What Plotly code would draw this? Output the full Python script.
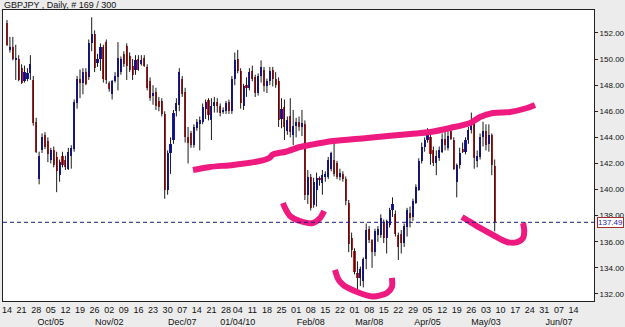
import pandas as pd
import plotly.graph_objects as go

# ---------------- data ----------------
opens = [152.8,150.7,150.9,149.9,150.0,149.3,148.3,148.5,148.9,148.4,
         145.2,140.8,143.0,144.2,143.7,142.3,143.0,142.5,141.1,142.6,
         142.3,141.6,142.6,143.1,146.6,148.5,148.2,149.0,148.6,151.2,
         151.9,149.7,150.0,150.9,151.3,148.2,147.3,148.3,148.6,149.0,
         150.4,151.0,150.2,149.5,149.2,150.0,149.6,150.1,149.4,148.3,
         147.2,147.5,146.8,146.8,145.8,140.0,142.8,143.8,146.0,146.5,
         148.5,147.5,144.0,144.3,143.4,144.7,145.0,145.2,146.2,146.9,
         145.3,146.4,146.7,146.4,146.0,146.0,146.7,146.0,148.5,150.0,
         149.1,146.4,148.0,147.8,149.1,148.6,147.4,148.7,149.2,147.9,
         148.3,149.2,148.5,148.3,145.4,146.3,144.5,145.6,144.2,144.9,
         145.2,144.8,145.0,139.6,141.0,138.8,140.0,140.9,140.5,141.0,
         141.0,141.6,142.3,142.0,141.0,141.2,140.8,139.0,136.3,135.3,
         133.6,133.2,133.0,134.7,137.0,136.1,135.2,136.5,136.5,137.5,
         136.3,137.3,138.4,138.1,136.5,136.6,135.9,137.1,138.2,137.9,
         139.0,140.0,142.2,143.3,143.8,144.0,143.0,142.0,142.4,142.9,
         143.9,143.2,144.5,143.8,140.6,141.9,143.1,142.9,143.8,144.6,
         145.2,142.2,142.5,144.0,144.5,143.5,144.2,141.8]
highs = [153.0,151.7,151.7,151.1,150.3,149.6,149.5,149.3,150.3,148.7,
         145.5,142.9,144.3,144.4,144.0,143.2,143.3,142.9,142.3,142.9,
         142.6,143.2,143.4,146.9,148.7,149.2,149.3,149.3,151.5,153.2,
         152.2,150.4,151.2,151.1,151.5,148.3,148.4,149.0,151.3,150.2,
         150.6,151.2,150.5,150.0,150.3,150.3,150.3,150.3,149.6,148.6,
         148.0,147.8,147.1,147.0,146.0,143.0,144.0,146.1,147.0,149.3,
         148.7,147.8,144.8,144.5,145.0,145.4,145.6,146.6,146.9,147.0,
         147.0,147.1,147.0,146.6,146.3,146.8,146.9,148.7,150.5,150.7,
         149.3,148.1,148.6,149.3,149.5,148.8,148.9,149.9,149.4,148.5,
         149.4,149.4,149.0,148.6,147.0,146.9,145.6,147.0,146.1,145.5,
         145.6,146.1,145.3,141.5,141.2,140.9,141.3,141.0,141.5,141.4,
         142.5,142.9,143.6,142.2,141.6,141.4,141.0,139.2,136.7,135.5,
         134.5,134.1,134.8,137.4,137.2,136.2,137.0,137.2,138.1,137.7,
         137.7,138.6,139.4,138.4,136.7,136.9,137.4,138.6,138.7,139.3,
         140.4,142.4,143.6,144.0,144.7,144.2,143.3,143.0,143.3,144.3,
         144.6,144.6,144.7,144.0,142.0,143.2,143.6,144.0,144.8,145.9,
         145.4,143.0,144.3,145.2,145.0,145.0,144.3,142.3]
lows = [151.0,150.5,149.9,148.4,148.3,148.1,148.2,148.3,148.4,144.9,
        142.8,140.4,142.8,143.1,142.1,142.0,141.7,139.8,140.6,141.7,
        141.5,141.5,141.6,142.9,146.2,147.0,147.3,148.0,148.4,150.6,
        149.0,149.4,149.1,148.2,148.1,147.5,146.9,148.2,147.6,148.8,
        149.4,148.4,149.0,148.4,148.8,149.1,149.5,149.4,147.6,146.8,
        146.5,146.1,146.0,145.6,139.3,139.6,141.2,143.5,145.6,146.0,
        147.1,143.6,142.0,143.2,143.2,144.5,143.0,145.0,145.4,145.3,
        143.8,145.9,145.9,145.6,145.8,145.8,145.8,145.8,148.0,148.9,
        146.2,146.1,147.1,147.6,148.3,147.1,147.2,148.2,147.5,147.4,
        148.0,147.9,147.8,144.8,144.7,143.8,144.2,144.0,143.4,144.0,
        144.5,144.1,139.2,138.9,138.4,138.6,138.7,140.3,139.6,140.6,
        140.8,141.4,141.0,140.8,140.7,140.6,138.8,135.2,134.8,133.5,
        132.1,132.6,132.5,133.9,135.9,134.0,134.9,136.0,136.3,135.9,
        135.1,137.1,137.9,136.4,134.6,135.1,135.6,136.4,137.1,137.6,
        138.9,139.9,142.0,142.9,143.6,141.9,141.8,141.1,142.2,142.8,
        143.0,143.0,143.8,141.5,139.4,141.6,142.8,142.7,143.5,144.3,
        141.6,141.7,142.3,143.3,143.0,142.9,141.1,136.8]
closes = [151.1,150.9,150.0,150.1,148.4,148.2,149.0,148.9,149.6,145.1,
          142.9,142.6,144.0,143.3,142.7,143.0,141.9,141.4,142.1,141.9,
          141.7,142.9,143.2,146.7,148.5,148.2,149.0,148.1,151.2,151.9,
          149.3,150.0,150.9,148.5,148.4,147.7,148.3,148.7,150.1,150.0,
          149.6,149.5,149.2,148.8,149.9,149.2,149.9,149.5,147.8,147.0,
          147.4,146.4,146.3,145.8,140.0,142.8,143.5,145.9,146.6,149.0,
          147.3,144.0,143.6,143.4,144.8,145.2,145.3,146.3,146.7,145.7,
          146.4,146.7,146.4,145.9,146.1,146.6,146.0,148.5,149.9,149.1,
          146.6,147.9,147.8,149.0,148.5,147.4,148.7,149.4,147.9,148.3,
          149.1,148.5,148.0,145.3,146.2,144.8,145.3,144.4,144.9,145.2,
          144.8,145.1,139.6,141.0,138.6,140.6,140.9,140.7,141.1,141.2,
          142.3,142.8,141.2,141.0,141.3,140.8,139.1,135.8,135.4,133.7,
          133.2,133.9,134.7,136.9,136.1,135.2,136.8,137.0,137.8,136.3,
          137.6,138.4,138.9,136.6,135.6,135.9,137.2,138.4,137.8,139.1,
          140.2,142.2,143.3,143.8,144.2,142.7,142.0,142.6,143.0,143.9,
          143.4,144.1,143.9,141.6,141.9,142.8,142.9,143.8,144.6,145.3,
          142.4,142.6,144.0,144.5,143.4,144.2,141.9,137.49]

# trading calendar (weekdays, New Year's day missing) and tick labels
first_day = "2009-09-14"
last_axis_day = "2010-06-18"
holidays = ["2010-01-01"]
month_label_dates = ["2009-10-05", "2009-11-02", "2009-12-07", "2010-01-04", "2010-02-08",
                     "2010-03-08", "2010-04-05", "2010-05-03", "2010-06-07"]
month_label_text = ["Oct/05", "Nov/02", "Dec/07", "01/04/10", "Feb/08",
                    "Mar/08", "Apr/05", "May/03", "Jun/07"]
y_ticks = [132, 134, 136, 138, 140, 142, 144, 146, 148, 150, 152]

# pink hand-drawn marks (bar index, price)
neck_x = [63.7, 69.5, 77.4, 86.6, 89.8, 91.0, 93.0, 95.5, 100.3, 103.8, 111.6, 123.3, 138.0,
          144.9, 151.7, 158.6, 162.0, 166.4, 172.3, 178.1, 180.8]
neck_y = [141.50, 141.73, 141.89, 142.19, 142.42, 142.68, 142.80, 142.90, 143.26, 143.42, 143.72,
          143.95, 144.26, 144.41, 144.72, 145.10, 145.56, 145.87, 145.95, 146.25, 146.48]
lsh_x = [94.5, 95.2, 96.9, 100.3, 104.8, 107.2, 108.6]
lsh_y = [138.97, 138.59, 137.98, 137.59, 137.44, 137.82, 138.36]
head_x = [112.3, 113.4, 115.1, 119.9, 125.3, 130.1, 131.8, 131.8]
head_y = [133.84, 133.15, 132.69, 132.15, 131.80, 132.08, 132.54, 133.23]
rsh_x = [155.8, 157.5, 162.0, 166.4, 171.2, 174.7, 176.7, 177.1, 176.7]
rsh_y = [137.90, 137.67, 137.06, 136.52, 135.98, 135.98, 136.29, 136.90, 137.44]

# ---------------- build ----------------
days = pd.bdate_range(first_day, last_axis_day)
days = days[~days.isin(pd.to_datetime(holidays))]
pos = {d: i for i, d in enumerate(days)}
n = len(closes)
xs = list(range(n))

mlab = dict(zip(pd.to_datetime(month_label_dates), month_label_text))
tickvals, ticktext = [], []
for d in days:
    if d.weekday() == 0:
        tickvals.append(pos[d])
        t = d.strftime("%d")
        if d in mlab:
            t += "<br>" + mlab[d]
        ticktext.append(t)

BLUE = "#1414d2"
RED = "#d81c1c"
PINK = "#ee1a80"

fig = go.Figure()

# wicks
wx, wy = [], []
for i in xs:
    wx += [i, i, None]
    wy += [highs[i], lows[i], None]
fig.add_trace(go.Scatter(x=wx, y=wy, mode="lines", line=dict(color="#1a1a1a", width=1),
                         hoverinfo="skip", showlegend=False))

# bodies
base = [min(o, c) for o, c in zip(opens, closes)]
hgt = [max(abs(c - o), 0.08) for o, c in zip(opens, closes)]
cols = [BLUE if c >= o else RED for o, c in zip(opens, closes)]
fig.add_trace(go.Bar(x=xs, y=hgt, base=base, width=0.72, marker=dict(color=cols, line=dict(width=0)),
                     showlegend=False))

for px_, py_ in [(neck_x, neck_y), (lsh_x, lsh_y), (head_x, head_y), (rsh_x, rsh_y)]:
    fig.add_trace(go.Scatter(x=px_, y=py_, mode="lines",
                             line=dict(color=PINK, width=6, shape="spline", smoothing=0.8),
                             hoverinfo="skip", showlegend=False))

last = closes[-1]
fig.add_shape(type="line", xref="paper", x0=0, x1=1, yref="y", y0=last, y1=last,
              line=dict(color="#1c1c80", width=1, dash="4px,3px"))
fig.add_annotation(x=1, xref="paper", y=last, yref="y", xanchor="left", xshift=3,
                   text=f"{last:.2f}", showarrow=False,
                   font=dict(size=8, color="#2a2aa8", family="Liberation Sans"),
                   bgcolor="white", bordercolor="#a03030", borderwidth=1, borderpad=0)
fig.add_annotation(x=0, xref="paper", y=1, yref="paper", xanchor="left", yanchor="bottom",
                   xshift=-1, yshift=-2,
                   text="GBPJPY , Daily, # 169 / 300", showarrow=False,
                   font=dict(size=9, color="#111111", family="Liberation Sans"))

fig.update_layout(
    width=625, height=327,
    margin=dict(l=3, r=31, t=10, b=26, autoexpand=False),
    paper_bgcolor="#ececec", plot_bgcolor="white",
    bargap=0,
    font=dict(family="Liberation Sans", size=9, color="#111111"),
    xaxis=dict(range=[-1.37, 201.0], tickmode="array", tickvals=tickvals, ticktext=ticktext,
               tickangle=0, automargin=False,
               showgrid=False, zeroline=False, showline=True, linecolor="#222222", mirror=True,
               ticks="", tickfont=dict(size=9), fixedrange=True),
    yaxis=dict(range=[131.46, 153.76], side="right", tickvals=y_ticks, automargin=False,
               ticktext=[f"{v:.2f}" for v in y_ticks], showgrid=False, zeroline=False,
               showline=True, linecolor="#222222", mirror=True,
               ticks="outside", ticklen=3, tickcolor="#222222", tickfont=dict(size=8)),
)

fig.write_html("out.html")
